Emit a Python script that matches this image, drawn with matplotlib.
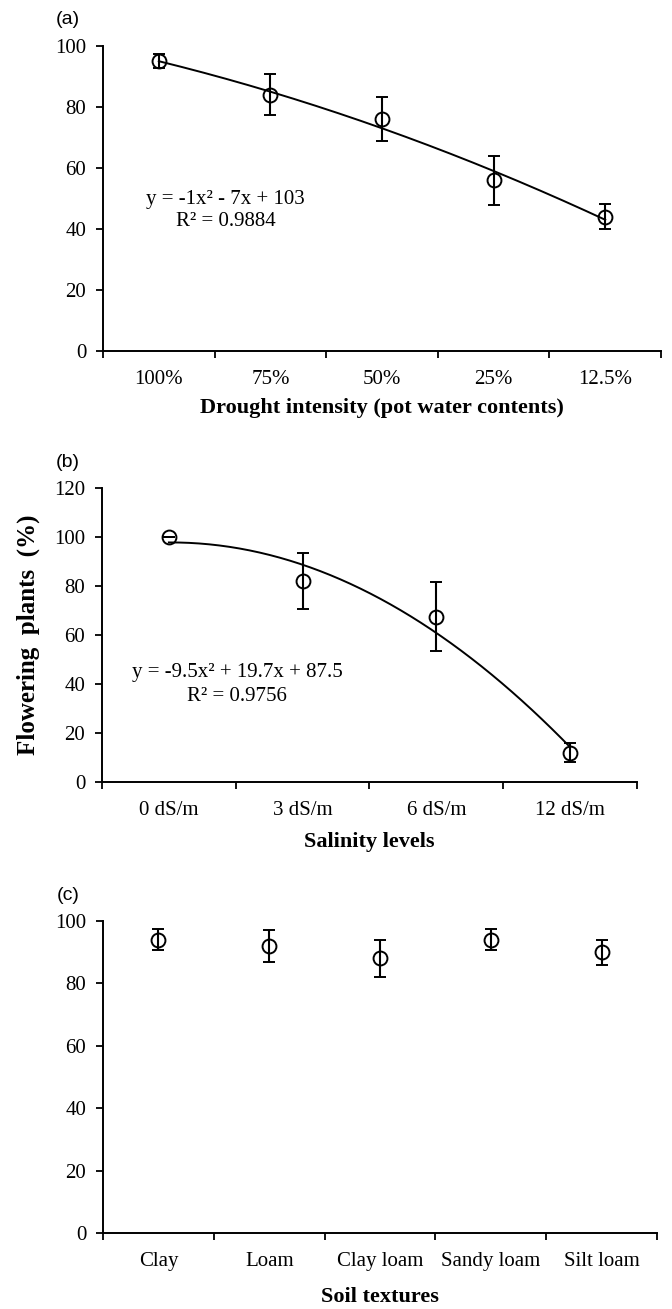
import numpy as np
import matplotlib.pyplot as plt

plt.rcParams['font.family'] = 'Liberation Serif'

# (a) drought intensity
drought_levels = ["100%", "75%", "50%", "25%", "12.5%"]
drought_mean = [95, 84, 76, 56, 44]
drought_err = [2.2, 6.7, 7.3, 8.0, 4.1]

# (b) salinity levels
salinity_levels = ["0 dS/m", "3 dS/m", "6 dS/m", "12 dS/m"]
salinity_mean = [100, 82, 67.5, 12]
salinity_err = [0, 11.4, 14.0, 3.9]

# (c) soil textures
soil_types = ["Clay", "Loam", "Clay loam", "Sandy loam", "Silt loam"]
soil_mean = [94, 92, 88, 94, 90]
soil_err = [3.3, 5.2, 5.9, 3.3, 4.0]


def draw_panel(ax, labels, means, errs, ymax, xlabel, fit=True, lpad=8):
    x = np.arange(1, len(labels) + 1)
    ax.errorbar(x, means, yerr=errs, fmt='o', color='black', mfc='none',
                mec='black', ms=10, mew=1.4, elinewidth=1.5, capsize=4.5,
                capthick=1.5)
    if fit:
        # second order trend line, as in the spreadsheet
        coef = np.polyfit(x, means, 2)
        xs = np.linspace(1, len(labels), 200)
        ax.plot(xs, np.polyval(coef, xs), color='black', lw=1.4)
    ax.set_xlim(0.5, len(labels) + 0.5)
    ax.set_ylim(0, ymax)
    ax.set_yticks(np.arange(0, ymax + 1, 20))
    ax.set_xticks(np.arange(0.5, len(labels) + 1, 1))
    ax.set_xticklabels([])
    ax.set_xticks(x, minor=True)
    ax.set_xticklabels(labels, minor=True)
    ax.tick_params(axis='x', which='minor', length=0, pad=14, labelsize=15)
    ax.tick_params(axis='x', which='major', length=5, width=1.3)
    ax.tick_params(axis='y', length=5, width=1.3, pad=7, labelsize=15)
    for s in ['top', 'right']:
        ax.spines[s].set_visible(False)
    for s in ['left', 'bottom']:
        ax.spines[s].set_linewidth(1.4)
    ax.set_xlabel(xlabel, fontsize=16, fontweight='bold', labelpad=lpad)


fig = plt.figure(figsize=(6.72, 13.09), dpi=100)

ax1 = fig.add_axes([0.1533, 0.7319, 0.8304, 0.2330])
draw_panel(ax1, drought_levels, drought_mean, drought_err, 100,
           "Drought intensity (pot water contents)", lpad=6)
ax1.text(1.6, 49.5, "y = -1x² - 7x + 103", ha='center', va='center', fontsize=15)
ax1.text(1.6, 42.3, "R² = 0.9884", ha='center', va='center', fontsize=15)

ax2 = fig.add_axes([0.1518, 0.4026, 0.7961, 0.2246])
draw_panel(ax2, salinity_levels, salinity_mean, salinity_err, 120,
           "Salinity levels", lpad=8)
ax2.text(1.51, 44.5, "y = -9.5x² + 19.7x + 87.5", ha='center', va='center', fontsize=15)
ax2.text(1.51, 34.7, "R² = 0.9756", ha='center', va='center', fontsize=15)
ax2.set_ylabel("Flowering  plants  (%)", fontsize=18, fontweight='bold', labelpad=10)

ax3 = fig.add_axes([0.1533, 0.0581, 0.8244, 0.2384])
draw_panel(ax3, soil_types, soil_mean, soil_err, 100, "Soil textures", fit=False, lpad=11)

for lab, yy in [("(a)", 1 - 19 / 1309), ("(b)", 1 - 463 / 1309), ("(c)", 1 - 895 / 1309)]:
    fig.text(68 / 672, yy, lab, ha='center', va='center', fontsize=14,
             family='Liberation Sans')

fig.savefig("out.png", dpi=100)
